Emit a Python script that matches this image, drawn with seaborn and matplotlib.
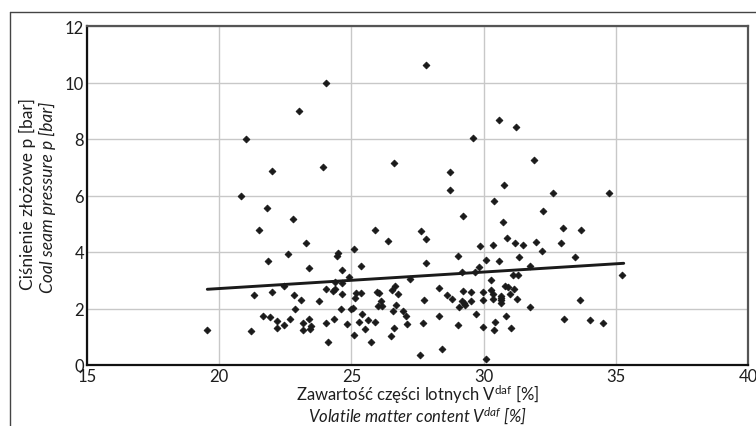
import numpy as np
import pandas as pd
import matplotlib
matplotlib.use("Agg")
import matplotlib.pyplot as plt
import seaborn as sns
from matplotlib.lines import Line2D

# ---- data ----
volatile = [
    27.83, 24.04, 23.02, 21.01, 22.00, 23.93, 20.82, 21.81, 22.80,
    30.58, 31.23, 29.60, 26.61, 31.90, 28.73, 28.73, 30.77, 32.62, 34.74,
    30.39, 32.25, 29.22, 30.73,
    21.50, 25.89, 27.63, 27.82, 26.38, 33.00, 33.68, 30.89, 31.19, 31.49,
    31.98, 32.93, 29.86, 30.36, 32.21, 23.28, 25.10,
    22.60, 24.49, 24.46, 21.85, 23.40, 24.64, 25.36, 24.91, 29.03, 27.82,
    30.09, 30.58, 31.34, 33.46, 31.75, 29.83, 29.18, 29.67, 31.11, 31.30,
    35.24, 30.28, 27.20,
    22.45, 21.30, 22.00, 22.83, 23.09, 23.77, 24.04, 24.30, 24.38, 24.38,
    24.64, 24.64, 22.87, 24.61,
    25.17, 25.36, 25.14, 25.97, 26.04, 26.12, 26.00, 26.16, 26.54, 26.65,
    26.76, 26.69, 25.00, 25.06,
    21.66, 21.92, 22.19, 22.19, 22.45, 22.68, 23.17, 23.40, 23.17, 23.47,
    23.43, 24.04, 24.34, 24.11, 21.20, 19.54, 24.83, 25.40, 25.29, 25.63,
    25.51, 25.89, 25.10, 25.74, 26.57, 26.95, 27.07, 27.10, 26.61, 26.50,
    27.74, 27.71, 27.59, 28.43,
    28.31, 28.61, 28.80, 29.22, 29.52, 29.98, 29.18, 29.26, 29.07, 29.30,
    29.52, 29.98, 30.28, 30.36, 30.81, 30.92, 31.15, 31.00, 30.36, 30.66,
    30.66, 30.66, 30.66, 31.26, 33.65, 31.75,
    28.31, 29.71, 29.03, 29.98, 30.85, 30.43, 30.39, 31.04, 33.04, 34.02,
    34.52, 30.09,
]
pressure = [
    10.62, 10.00, 9.00, 8.00, 6.87, 7.00, 5.98, 5.56, 5.17,
    8.67, 8.42, 8.03, 7.15, 7.26, 6.83, 6.20, 6.37, 6.09, 6.09,
    5.81, 5.45, 5.27, 5.06,
    4.78, 4.78, 4.74, 4.46, 4.40, 4.84, 4.77, 4.50, 4.32, 4.25,
    4.35, 4.32, 4.20, 4.25, 4.03, 4.32, 4.12,
    3.93, 3.96, 3.86, 3.68, 3.43, 3.35, 3.50, 3.12, 3.86, 3.62,
    3.72, 3.68, 3.82, 3.82, 3.50, 3.47, 3.28, 3.28, 3.19, 3.19,
    3.19, 3.01, 3.04,
    2.80, 2.48, 2.58, 2.48, 2.30, 2.27, 2.69, 2.62, 2.68, 2.94,
    2.90, 2.51, 1.98, 1.98,
    2.55, 2.55, 2.37, 2.58, 2.55, 2.27, 2.09, 2.09, 2.65, 2.80,
    2.50, 2.12, 1.98, 2.02,
    1.73, 1.70, 1.56, 1.31, 1.42, 1.63, 1.49, 1.63, 1.24, 1.38,
    1.27, 1.49, 1.63, 0.81, 1.20, 1.25, 1.45, 1.81, 1.52, 1.59,
    1.27, 1.52, 1.06, 0.81, 1.91, 1.91, 1.73, 1.45, 1.31, 1.02,
    2.30, 1.49, 0.37, 0.55,
    2.73, 2.48, 2.32, 2.62, 2.57, 2.58, 2.25, 2.20, 2.07, 2.12,
    2.27, 2.30, 2.65, 2.51, 2.80, 2.76, 2.69, 2.51, 2.34, 2.44,
    2.37, 2.30, 2.20, 2.34, 2.30, 2.05,
    1.72, 1.81, 1.42, 1.34, 1.73, 1.52, 1.24, 1.31, 1.63, 1.59,
    1.49, 0.21,
]
trend_x = [19.55, 35.30]
trend_y = [2.68, 3.60]

x_ticks = [15, 20, 25, 30, 35, 40]
y_ticks = [0, 2, 4, 6, 8, 10, 12]

ylabel_pl = "Ciśnienie złożowe p [bar]"
ylabel_en = "Coal seam pressure p [bar]"
xlabel_pl = r"Zawartość części lotnych V$^{\mathrm{daf}}$ [%]"
xlabel_en = r"Volatile matter content V$^{\mathit{daf}}$ [%]"

df = pd.DataFrame({"v": volatile, "p": pressure})

# ---- style ----
sns.set_style("white")
plt.rcParams["font.family"] = ["Lato", "DejaVu Sans"]
plt.rcParams["mathtext.fontset"] = "custom"
plt.rcParams["mathtext.rm"] = "Lato"
plt.rcParams["mathtext.it"] = "Lato:italic"

fig = plt.figure(figsize=(7.56, 4.27), dpi=100)
ax = fig.add_axes([87 / 756, 1 - 366 / 427, (748 - 87) / 756, (366 - 27) / 427])

ax.set_xlim(15, 40)
ax.set_ylim(0, 12)
ax.set_xticks(x_ticks)
ax.set_yticks(y_ticks)
ax.set_xticklabels([str(t) for t in x_ticks])
ax.set_yticklabels([str(t) for t in y_ticks])
ax.grid(True, color="#c8c8c8", linewidth=1.0)
ax.set_axisbelow(True)
ax.tick_params(length=0, labelsize=12, colors="#1e1e1e", pad=2)

sns.lineplot(x=trend_x, y=trend_y, ax=ax, color="#1a1a1a", linewidth=2.1, zorder=3)
sns.scatterplot(data=df, x="v", y="p", ax=ax, marker="D", s=12, color="#1a1a1a",
                edgecolor="#1a1a1a", linewidth=0.6, zorder=4)

ax.set_xlabel("")
ax.set_ylabel("")

for side in ["left", "bottom"]:
    ax.spines[side].set_color("#111111")
    ax.spines[side].set_linewidth(1.6)
for side in ["top", "right"]:
    ax.spines[side].set_color("#555555")
    ax.spines[side].set_linewidth(1.6)

# axis titles (two lines, second italic)
fig.text(418 / 756, 1 - 395 / 427, xlabel_pl, ha="center", va="center",
         fontsize=12, color="#1e1e1e")
fig.text(418 / 756, 1 - 416 / 427, xlabel_en, ha="center", va="center",
         fontsize=12, color="#1e1e1e", style="italic")
fig.text(27 / 756, 1 - 194 / 427, ylabel_pl, ha="center", va="center",
         rotation=90, fontsize=12.5, color="#1e1e1e")
fig.text(47 / 756, 1 - 197 / 427, ylabel_en, ha="center", va="center",
         rotation=90, fontsize=12.5, color="#1e1e1e", style="italic")

# outer frame lines (top and left of the figure box)
fig.add_artist(Line2D([10 / 756, 1.0], [1 - 13 / 427, 1 - 13 / 427],
                      transform=fig.transFigure, color="#444444", linewidth=1.0))
fig.add_artist(Line2D([10 / 756, 10 / 756], [0.0, 1 - 13 / 427],
                      transform=fig.transFigure, color="#444444", linewidth=1.0))

fig.savefig("out.png", dpi=100)
